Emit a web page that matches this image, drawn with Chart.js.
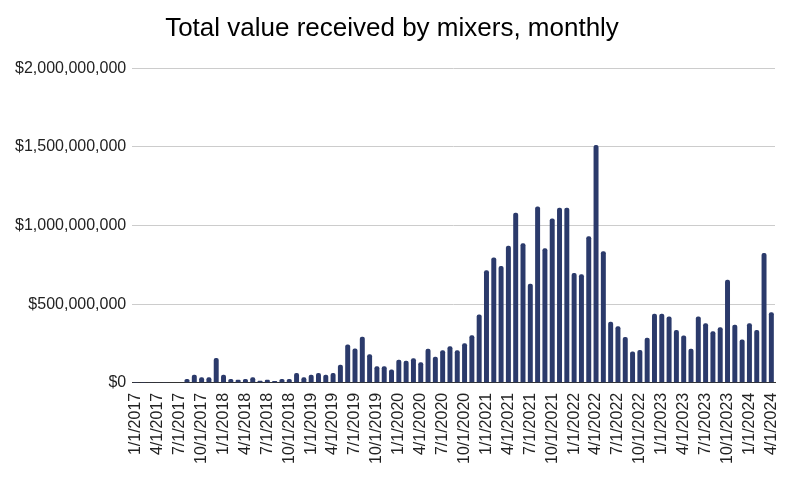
<!DOCTYPE html>
<html>
<head>
<meta charset="utf-8">
<script src="https://cdn.jsdelivr.net/npm/chart.js@4.4.1/dist/chart.umd.min.js"></script>
<style>
  html, body { margin: 0; padding: 0; background: #fff; }
  #wrap { width: 800px; height: 478px; }
</style>
</head>
<body>
<div id="wrap"><canvas id="myChart"></canvas></div>
<script>
// months, 1/1/2017 .. 4/1/2024
const months = [
  '1/1/2017','2/1/2017','3/1/2017','4/1/2017','5/1/2017','6/1/2017','7/1/2017','8/1/2017','9/1/2017','10/1/2017','11/1/2017','12/1/2017',
  '1/1/2018','2/1/2018','3/1/2018','4/1/2018','5/1/2018','6/1/2018','7/1/2018','8/1/2018','9/1/2018','10/1/2018','11/1/2018','12/1/2018',
  '1/1/2019','2/1/2019','3/1/2019','4/1/2019','5/1/2019','6/1/2019','7/1/2019','8/1/2019','9/1/2019','10/1/2019','11/1/2019','12/1/2019',
  '1/1/2020','2/1/2020','3/1/2020','4/1/2020','5/1/2020','6/1/2020','7/1/2020','8/1/2020','9/1/2020','10/1/2020','11/1/2020','12/1/2020',
  '1/1/2021','2/1/2021','3/1/2021','4/1/2021','5/1/2021','6/1/2021','7/1/2021','8/1/2021','9/1/2021','10/1/2021','11/1/2021','12/1/2021',
  '1/1/2022','2/1/2022','3/1/2022','4/1/2022','5/1/2022','6/1/2022','7/1/2022','8/1/2022','9/1/2022','10/1/2022','11/1/2022','12/1/2022',
  '1/1/2023','2/1/2023','3/1/2023','4/1/2023','5/1/2023','6/1/2023','7/1/2023','8/1/2023','9/1/2023','10/1/2023','11/1/2023','12/1/2023',
  '1/1/2024','2/1/2024','3/1/2024','4/1/2024'
];

// value received, millions of USD
const received2017 = [1, 1, 2, 2, 2, 3, 4, 25, 51, 36, 36, 158];
const received2018 = [51, 25, 19, 25, 36, 13, 19, 11, 25, 25, 62, 36];
const received2019 = [51, 62, 51, 62, 115, 243, 218, 293, 182, 105, 105, 85];
const received2020 = [147, 141, 156, 130, 216, 165, 207, 233, 207, 252, 303, 434];
const received2021 = [715, 796, 743, 872, 1081, 887, 630, 1121, 855, 1045, 1113, 1113];
const received2022 = [698, 690, 932, 1511, 836, 388, 360, 292, 199, 208, 286, 439];
const received2023 = [439, 422, 335, 301, 216, 422, 379, 328, 354, 655, 369, 275];
const received2024 = [379, 335, 826, 449];

const yTicks = [0, 500000000, 1000000000, 1500000000, 2000000000];

const received = [].concat(received2017, received2018, received2019, received2020,
  received2021, received2022, received2023, received2024).map(v => v * 1000000);

const ctx = document.getElementById('myChart');

new Chart(ctx, {
  type: 'bar',
  data: {
    labels: months,
    datasets: [{
      label: 'Total value received',
      data: received,
      backgroundColor: '#2b3a6b',
      borderRadius: { topLeft: 2, topRight: 2 },
      borderSkipped: 'bottom',
      barPercentage: 0.68,
      categoryPercentage: 1.0
    }]
  },
  options: {
    responsive: true,
    maintainAspectRatio: false,
    animation: false,
    layout: {
      padding: { left: 9, right: 25, top: 0, bottom: 12 }
    },
    plugins: {
      legend: { display: false },
      title: {
        display: true,
        text: 'Total value received by mixers, monthly',
        color: '#000',
        font: { family: "'Liberation Sans', Arial, sans-serif", size: 26, weight: 'normal' },
        padding: { top: 13, bottom: 24 }
      },
      tooltip: {
        callbacks: {
          label: function(item) {
            return '$' + item.raw.toLocaleString('en-US');
          }
        }
      }
    },
    scales: {
      x: {
        grid: { display: false },
        border: { display: true, color: '#333', width: 1 },
        ticks: {
          autoSkip: false,
          maxRotation: 90,
          minRotation: 90,
          padding: 2,
          color: '#222',
          font: { family: "'Liberation Sans', Arial, sans-serif", size: 16 },
          callback: function(value, index) {
            return index % 3 === 0 ? months[index] : '';
          }
        }
      },
      y: {
        min: 0,
        max: 2000000000,
        afterBuildTicks: function(scale) {
          scale.ticks = yTicks.map(v => ({ value: v }));
        },
        grid: { color: '#cccccc', drawTicks: false },
        border: { display: false },
        ticks: {
          padding: 6,
          color: '#222',
          font: { family: "'Liberation Sans', Arial, sans-serif", size: 16 },
          callback: function(value) {
            return '$' + Number(value).toLocaleString('en-US');
          }
        }
      }
    }
  }
});
</script>
</body>
</html>
